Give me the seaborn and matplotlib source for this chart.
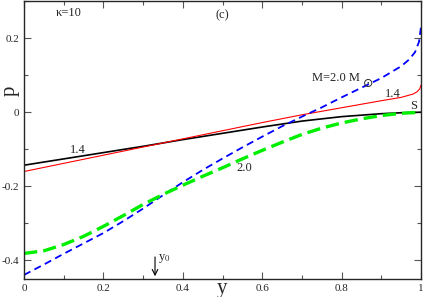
import numpy as np
import pandas as pd
import matplotlib
matplotlib.use("Agg")
import matplotlib.pyplot as plt
import seaborn as sns
from matplotlib.ticker import MultipleLocator, FuncFormatter

sns.set_style("ticks")
plt.rcParams['font.family'] = ['Liberation Serif', 'DejaVu Serif']
plt.rcParams['mathtext.fontset'] = 'stix'

# data
y_black = [0, 0.1, 0.2, 0.3, 0.4, 0.5, 0.6, 0.7, 0.8, 0.9, 0.95, 1.0]
p_black = [-0.143, -0.126, -0.109, -0.092, -0.074, -0.057, -0.040, -0.024, -0.012, -0.004, -0.0015, 0.0]

y_red = [0, 0.1, 0.2, 0.3, 0.4, 0.5, 0.6, 0.7, 0.8, 0.9, 0.95, 0.98, 0.99, 0.997, 1.0]
p_red = [-0.160, -0.138, -0.116, -0.094, -0.072, -0.050, -0.028, -0.007, 0.012, 0.031, 0.040, 0.049, 0.055, 0.063, 0.073]

y_blue = [0, 0.05, 0.1, 0.15, 0.2, 0.25, 0.3, 0.35, 0.4, 0.45, 0.5, 0.55, 0.6, 0.65,
          0.7, 0.75, 0.8, 0.85, 0.9, 0.95, 0.97, 0.985, 0.995, 1.0]
p_blue = [-0.439, -0.411, -0.382, -0.354, -0.326, -0.294, -0.260, -0.224, -0.189, -0.156,
          -0.125, -0.095, -0.066, -0.038, -0.012, 0.013, 0.040, 0.066, 0.092, 0.124,
          0.142, 0.162, 0.190, 0.230]

y_green = [0, 0.05, 0.1, 0.15, 0.2, 0.25, 0.3, 0.35, 0.4, 0.45, 0.5, 0.55, 0.6, 0.65,
           0.7, 0.75, 0.8, 0.85, 0.9, 0.95, 1.0]
p_green = [-0.381, -0.374, -0.357, -0.335, -0.308, -0.279, -0.249, -0.222, -0.197, -0.173,
           -0.150, -0.126, -0.103, -0.081, -0.060, -0.043, -0.029, -0.018, -0.009, -0.003, 0.0]

y0 = 0.33

fig = plt.figure(figsize=(4.25, 2.97), dpi=100)
ax = fig.add_axes([24/425, 18/297, 397/425, 278/297])

sns.lineplot(x=y_black, y=p_black, ax=ax, color='black', lw=1.2, estimator=None, sort=False)
sns.lineplot(x=y_red, y=p_red, ax=ax, color='#ff0000', lw=0.8, estimator=None, sort=False)
sns.lineplot(x=y_blue, y=p_blue, ax=ax, color='#0000ff', lw=1.3, estimator=None, sort=False,
             linestyle=(0, (4, 2.5)))
sns.lineplot(x=y_green, y=p_green, ax=ax, color='#00ee00', lw=2.4, estimator=None, sort=False,
             linestyle=(0, (4, 1.8)))

ax.set_xlim(0, 1)
ax.set_ylim(-0.45, 0.3)
ax.xaxis.set_major_locator(MultipleLocator(0.2))
ax.xaxis.set_minor_locator(MultipleLocator(0.1))
ax.yaxis.set_major_locator(MultipleLocator(0.2))
ax.yaxis.set_minor_locator(MultipleLocator(0.1))

def fmt(v, pos):
    if abs(v) < 1e-9:
        return '0'
    if abs(v - 1) < 1e-9:
        return '1'
    return ('%g' % v)

ax.xaxis.set_major_formatter(FuncFormatter(fmt))
ax.yaxis.set_major_formatter(FuncFormatter(fmt))
ax.tick_params(which='both', direction='in', top=True, right=True, labelsize=8, width=0.8, color='#555555')
ax.tick_params(which='major', length=5)
ax.tick_params(which='minor', length=3)
for s in ax.spines.values():
    s.set_linewidth(1.0)

ax.set_xlabel('')
ax.set_ylabel('')
fig.text(222/425, 1 - 279/297, 'y', fontsize=15, ha='center', va='top')
fig.text(10/425, 1 - 91/297, 'p', fontsize=15, ha='center', va='center', rotation=90)

ax.text(0.08, 0.285, 'κ=10', fontsize=9, va='top')
ax.text(0.483, 0.278, '(c)', fontsize=9, va='top')
ax.text(0.725, 0.093, 'M=2.0 M', fontsize=9, va='center')
ax.text(0.866, 0.078, '⊙', fontsize=9, va='center', ha='center', family=['DejaVu Sans'])
ax.text(0.908, 0.050, '1.4', fontsize=9, va='center')
ax.text(0.973, 0.018, 'S', fontsize=9, va='center')
ax.text(0.115, -0.103, '1.4', fontsize=9, va='center')
ax.text(0.534, -0.151, '2.0', fontsize=9, va='center')
ax.annotate('', xy=(y0, -0.45), xytext=(y0, -0.383),
            arrowprops=dict(arrowstyle='->', color='black', lw=0.8))
ax.text(y0 + 0.008, -0.395, r'y$_0$', fontsize=9, va='center')

fig.savefig('out.png', dpi=100)
